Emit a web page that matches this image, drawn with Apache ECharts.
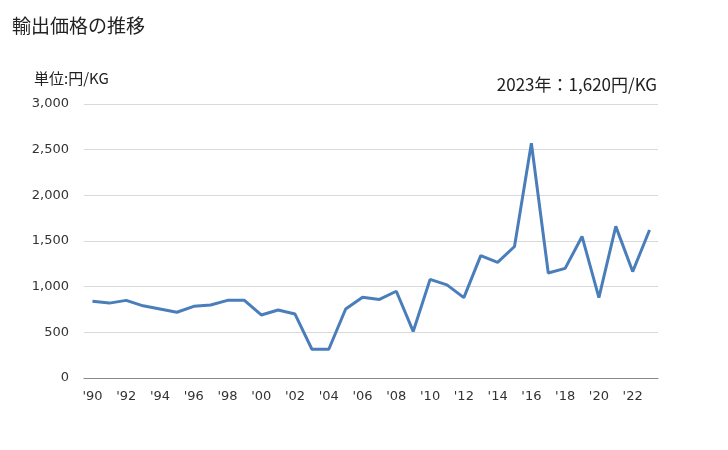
<!DOCTYPE html>
<html><head><meta charset="utf-8">
<script src="https://cdn.jsdelivr.net/npm/echarts@6/dist/echarts.min.js"></script>
<style>html,body{margin:0;padding:0;background:#fff}#c{width:728px;height:450px}</style>
</head><body><div id="c"></div>
<script>
const years = ["1990","1991","1992","1993","1994","1995","1996","1997","1998","1999","2000","2001","2002","2003","2004","2005","2006","2007","2008","2009","2010","2011","2012","2013","2014","2015","2016","2017","2018","2019","2020","2021","2022","2023"];
const prices = [840,820,850,790,755,720,785,800,850,850,690,745,700,315,315,755,885,860,950,510,1080,1020,880,1340,1265,1440,2570,1150,1200,1550,880,1660,1165,1620];
const yTicks = [0,500,1000,1500,2000,2500,3000];
const titleText = "輸出価格の推移";
const unitText = "単位:円/KG";
const noteText = "2023年：1,620円/KG";

const chart = echarts.init(document.getElementById('c'));
const jp = '"Noto Sans CJK JP", "Noto Sans", sans-serif';
chart.setOption({
  animation:false,
  graphic:[
    {type:'text', left:12, top:16, style:{text:titleText, font:'19px '+jp, fill:'#222'}},
    {type:'text', left:34, top:71, style:{text:unitText, font:'15px '+jp, fill:'#222'}},
    {type:'text', right:71, top:76, style:{text:noteText, font:'17px '+jp, fill:'#222'}}
  ],
  grid:{left:84, right:70, top:104, bottom:72},
  xAxis:{
    type:'category', data:years, boundaryGap:true,
    axisLine:{lineStyle:{color:'#888'}},
    axisTick:{show:false},
    axisLabel:{interval:1, color:'#333', fontFamily:'DejaVu Sans', fontSize:13, margin:12,
      formatter:v=>"'"+v.slice(2)}
  },
  yAxis:{
    type:'value', min:yTicks[0], max:yTicks[yTicks.length-1], interval:500,
    axisLine:{show:false}, axisTick:{show:false},
    axisLabel:{color:'#333', fontFamily:'DejaVu Sans', fontSize:13, margin:15,
      formatter:v=>v.toLocaleString('en-US')},
    splitLine:{lineStyle:{color:'#d9d9d9'}}
  },
  series:[{type:'line', data:prices, symbol:'none', lineStyle:{color:'#4a7ebb', width:3}, itemStyle:{color:'#4a7ebb'}}]
});
</script></body></html>
